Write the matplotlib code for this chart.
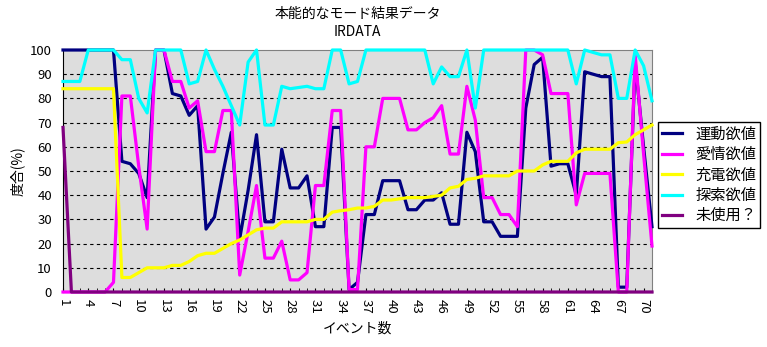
import matplotlib
matplotlib.use("Agg")
import matplotlib.pyplot as plt

plt.rcParams['font.family'] = ['Noto Sans CJK JP', 'DejaVu Sans']

events = list(range(1, 72))

undou = [100, 100, 100, 100, 100, 100, 100, 54, 53, 49, 39, 100, 100, 82, 81, 73, 77, 26, 31, 49,
         66, 22, 42, 65, 29, 29, 59, 43, 43, 48, 27, 27, 68, 68, 1, 4, 32, 32, 46, 46,
         46, 34, 34, 38, 38, 41, 28, 28, 66, 58, 29, 29, 23, 23, 23, 76, 94, 97, 52, 53,
         53, 40, 91, 90, 89, 89, 2, 2, 95, 60, 27]
aijou = [0, 0, 0, 0, 0, 0, 4, 81, 81, 52, 26, 100, 100, 87, 87, 76, 79, 58, 58, 75,
         75, 7, 25, 44, 14, 14, 21, 5, 5, 8, 44, 44, 75, 75, 1, 1, 60, 60, 80, 80,
         80, 67, 67, 70, 72, 77, 57, 57, 85, 71, 39, 39, 32, 32, 27, 100, 100, 98, 82, 82,
         82, 36, 49, 49, 49, 49, 0, 0, 98, 57, 19]
juuden = [84, 84, 84, 84, 84, 84, 84, 6, 6, 8, 10, 10, 10, 11, 11, 12.6, 15, 16, 16, 18,
          20, 21.5, 23.6, 25.7, 26.4, 26.4, 29, 29, 29, 29, 30, 30, 33, 33.6, 34, 34.7, 34.7, 35.4, 38, 38,
          38.5, 39, 39, 39, 39.5, 40, 43, 43.7, 46.5, 47, 48, 48, 48, 48, 50, 50, 50, 52.5, 54, 54,
          54, 57.5, 59, 59, 59, 59, 61.7, 62, 65, 67, 69]
tansaku = [87, 87, 87, 100, 100, 100, 100, 96, 96, 80, 74, 100, 100, 100, 100, 86, 87, 100, 92, 85,
           77, 69, 95, 100, 69, 69, 85, 84, 84.5, 85, 84, 84, 100, 100, 86, 87, 100, 100, 100, 100,
           100, 100, 100, 100, 86, 93, 89, 89, 100, 76, 100, 100, 100, 100, 100, 100, 100, 100, 100, 100,
           100, 86, 100, 99, 98, 98, 80, 80, 100, 93.5, 79]
mishiyou = [68] + [0] * 70

series = [
    ("運動欲値", undou, "#000080"),
    ("愛情欲値", aijou, "#FF00FF"),
    ("充電欲値", juuden, "#FFFF00"),
    ("探索欲値", tansaku, "#00FFFF"),
    ("未使用？", mishiyou, "#800080"),
]

fig = plt.figure(figsize=(7.67, 3.47), dpi=100)
ax = fig.add_axes([63 / 767, 55 / 347, 589 / 767, 242 / 347])
ax.set_facecolor("#DDDDDD")

# dashed horizontal gridlines like the excel chart
for y in range(10, 100, 10):
    ax.axhline(y, color="black", lw=0.8, ls=(0, (3, 3)), zorder=1)

for name, vals, col in series:
    ax.plot(events, vals, color=col, lw=2.3, label=name, clip_on=False, zorder=3)

ax.set_xlim(1, 71)
ax.set_ylim(0, 100)
ax.set_yticks(range(0, 101, 10))
ax.set_xticks(range(1, 72, 3))
ax.set_xticks(events, minor=True)
ax.tick_params(axis="x", which="both", direction="in", length=3, labelsize=9.5, pad=5, labelrotation=-90)
ax.tick_params(axis="y", length=0, labelsize=9.5, pad=8)
for lbl in ax.get_xticklabels():
    lbl.set_va("top")

for s in ("top", "right"):
    ax.spines[s].set_color("#808080")
ax.spines["left"].set_color("black")
ax.spines["bottom"].set_color("black")

ax.set_xlabel("イベント数", fontsize=10, labelpad=6)
ax.set_ylabel("度合(%)", fontsize=10, labelpad=4)

fig.text(357.5 / 767, 1 - 14 / 347, "本能的なモード結果データ", ha="center", va="center", fontsize=10)
fig.text(357.5 / 767, 1 - 32 / 347, "IRDATA", ha="center", va="center", fontsize=10)

leg = ax.legend(loc="upper left", bbox_to_anchor=(658 / 767, 1 - 122 / 347),
                bbox_transform=fig.transFigure, fontsize=11, frameon=True, fancybox=False,
                edgecolor="black", framealpha=1, borderpad=0.25, labelspacing=0.22,
                handlelength=1.3, handletextpad=0.9, borderaxespad=0)
leg.get_frame().set_linewidth(1.0)

fig.savefig("out.png", dpi=100)
